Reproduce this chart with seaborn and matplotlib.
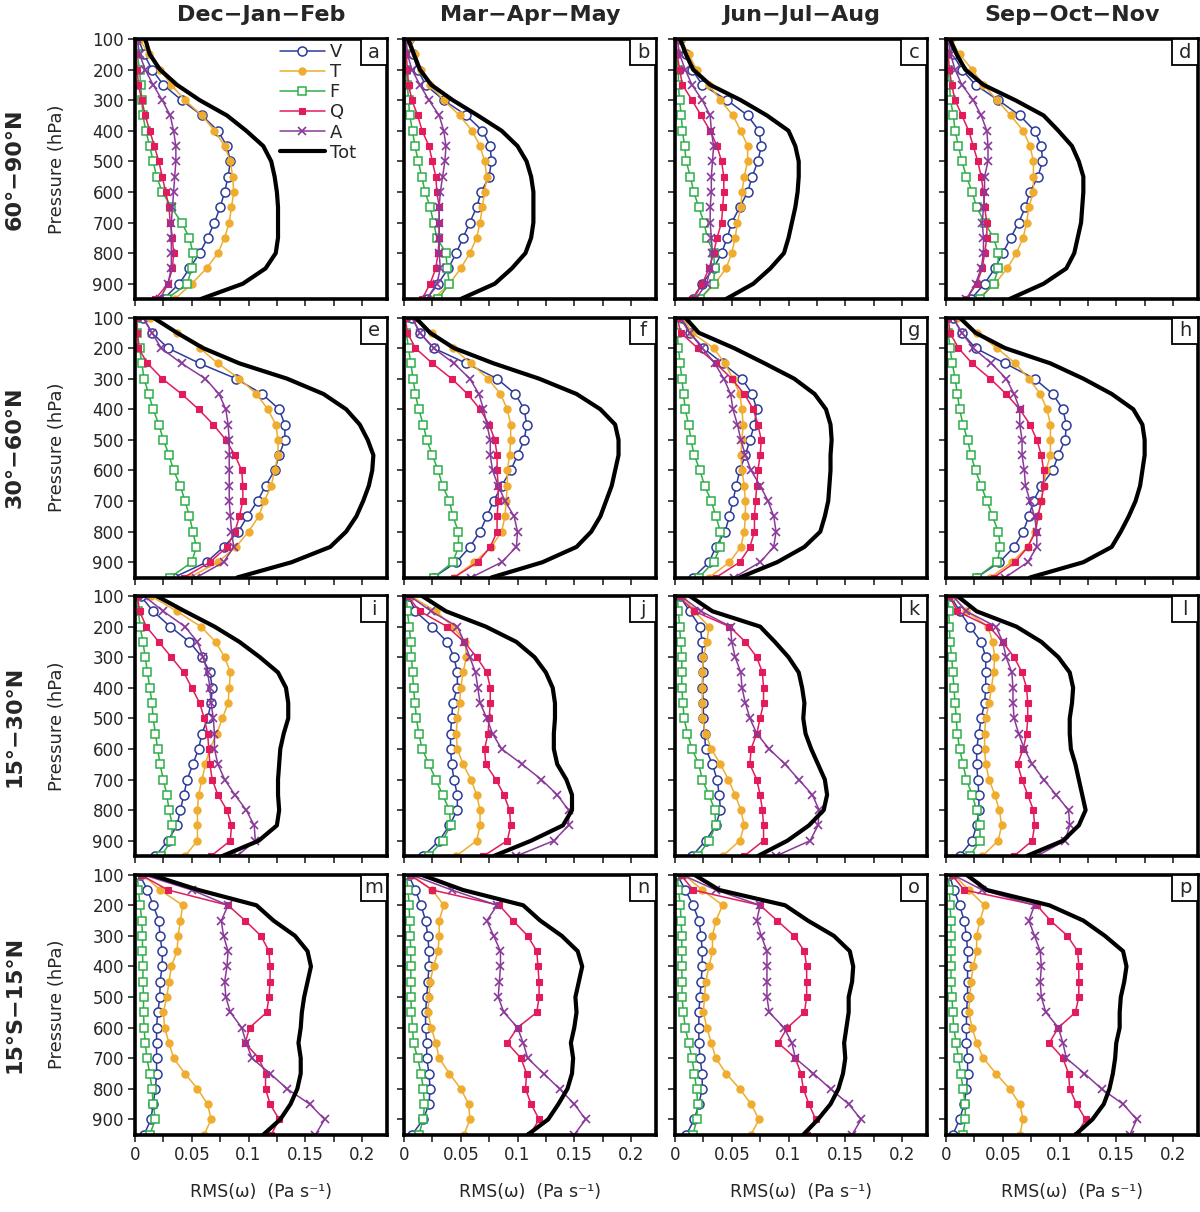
import matplotlib
matplotlib.use('Agg')
import matplotlib.pyplot as plt
import matplotlib.patches as mpatches
import pandas as pd
import seaborn as sns

# pressure levels (hPa), shared by every profile
levels = list(range(100, 951, 50))

# ---- 60-90N ----
v_a = [0.003, 0.008, 0.015, 0.025, 0.041, 0.059, 0.073, 0.081, 0.084, 0.082, 0.079, 0.075, 0.070, 0.064, 0.057, 0.048, 0.039, 0.025]
t_a = [0.004, 0.012, 0.022, 0.032, 0.044, 0.059, 0.070, 0.079, 0.084, 0.086, 0.087, 0.085, 0.083, 0.079, 0.073, 0.063, 0.050, 0.035]
f_a = [0.001, 0.002, 0.004, 0.005, 0.006, 0.007, 0.0095, 0.013, 0.016, 0.019, 0.024, 0.032, 0.041, 0.048, 0.051, 0.050, 0.046, 0.028]
q_a = [0.001, 0.001, 0.002, 0.003, 0.006, 0.009, 0.013, 0.017, 0.021, 0.024, 0.027, 0.030, 0.031, 0.033, 0.034, 0.033, 0.029, 0.018]
a_a = [0.002, 0.004, 0.009, 0.016, 0.024, 0.031, 0.034, 0.036, 0.036, 0.035, 0.034, 0.033, 0.032, 0.032, 0.032, 0.032, 0.029, 0.022]
tot_a = [0.009, 0.013, 0.022, 0.037, 0.057, 0.081, 0.098, 0.113, 0.120, 0.123, 0.125, 0.126, 0.126, 0.126, 0.124, 0.115, 0.095, 0.058]

v_b = [0.004, 0.008, 0.012, 0.019, 0.035, 0.055, 0.069, 0.076, 0.077, 0.075, 0.068, 0.064, 0.058, 0.052, 0.046, 0.039, 0.030, 0.020]
t_b = [0.005, 0.010, 0.015, 0.023, 0.035, 0.049, 0.060, 0.067, 0.071, 0.073, 0.071, 0.069, 0.067, 0.064, 0.058, 0.050, 0.040, 0.026]
f_b = [0.001, 0.001, 0.002, 0.003, 0.004, 0.005, 0.0075, 0.0096, 0.0126, 0.0156, 0.0186, 0.023, 0.026, 0.029, 0.037, 0.038, 0.040, 0.030]
q_b = [0.001, 0.002, 0.003, 0.004, 0.007, 0.012, 0.016, 0.022, 0.025, 0.028, 0.029, 0.031, 0.031, 0.031, 0.030, 0.028, 0.023, 0.016]
a_b = [0.002, 0.003, 0.007, 0.014, 0.022, 0.031, 0.035, 0.037, 0.036, 0.034, 0.032, 0.031, 0.031, 0.031, 0.031, 0.032, 0.029, 0.020]
tot_b = [0.0036, 0.0087, 0.014, 0.024, 0.043, 0.065, 0.086, 0.100, 0.108, 0.112, 0.114, 0.114, 0.114, 0.112, 0.107, 0.095, 0.080, 0.050]

v_c = [0.004, 0.010, 0.015, 0.024, 0.046, 0.064, 0.074, 0.076, 0.073, 0.068, 0.064, 0.057, 0.050, 0.046, 0.041, 0.034, 0.024, 0.016]
t_c = [0.005, 0.012, 0.019, 0.030, 0.040, 0.051, 0.058, 0.064, 0.064, 0.061, 0.059, 0.058, 0.055, 0.053, 0.050, 0.045, 0.035, 0.022]
f_c = [0.001, 0.001, 0.003, 0.003, 0.004, 0.0055, 0.0066, 0.0084, 0.0099, 0.0135, 0.0165, 0.021, 0.0255, 0.0285, 0.034, 0.035, 0.034, 0.022]
q_c = [0.001, 0.002, 0.004, 0.0066, 0.015, 0.023, 0.031, 0.037, 0.041, 0.043, 0.043, 0.042, 0.041, 0.037, 0.034, 0.030, 0.024, 0.015]
a_c = [0.002, 0.004, 0.009, 0.015, 0.024, 0.031, 0.032, 0.034, 0.033, 0.032, 0.032, 0.031, 0.031, 0.032, 0.033, 0.031, 0.028, 0.018]
tot_c = [0.0045, 0.0096, 0.016, 0.031, 0.058, 0.081, 0.100, 0.106, 0.109, 0.109, 0.108, 0.106, 0.103, 0.100, 0.096, 0.084, 0.069, 0.045]

v_d = [0.003, 0.006, 0.014, 0.026, 0.046, 0.065, 0.078, 0.084, 0.085, 0.081, 0.074, 0.070, 0.064, 0.057, 0.050, 0.043, 0.034, 0.022]
t_d = [0.004, 0.012, 0.023, 0.033, 0.045, 0.057, 0.068, 0.074, 0.077, 0.077, 0.077, 0.073, 0.071, 0.068, 0.062, 0.054, 0.043, 0.028]
f_d = [0.001, 0.001, 0.002, 0.003, 0.004, 0.0065, 0.008, 0.011, 0.014, 0.018, 0.023, 0.027, 0.034, 0.042, 0.046, 0.046, 0.042, 0.030]
q_d = [0.001, 0.002, 0.003, 0.005, 0.008, 0.014, 0.020, 0.024, 0.028, 0.031, 0.033, 0.034, 0.036, 0.036, 0.034, 0.032, 0.027, 0.018]
a_d = [0.002, 0.004, 0.008, 0.014, 0.024, 0.031, 0.036, 0.037, 0.037, 0.034, 0.034, 0.033, 0.032, 0.033, 0.033, 0.031, 0.026, 0.018]
tot_d = [0.0035, 0.0094, 0.017, 0.033, 0.061, 0.086, 0.099, 0.111, 0.117, 0.121, 0.121, 0.120, 0.119, 0.116, 0.113, 0.106, 0.086, 0.056]

# ---- 30-60N ----
v_e = [0.007, 0.015, 0.029, 0.057, 0.089, 0.112, 0.127, 0.132, 0.132, 0.127, 0.123, 0.115, 0.108, 0.099, 0.091, 0.078, 0.063, 0.034]
t_e = [0.013, 0.037, 0.057, 0.073, 0.092, 0.107, 0.117, 0.124, 0.126, 0.126, 0.123, 0.120, 0.114, 0.109, 0.100, 0.089, 0.073, 0.048]
f_e = [0.002, 0.002, 0.004, 0.006, 0.008, 0.012, 0.016, 0.021, 0.025, 0.030, 0.034, 0.040, 0.044, 0.048, 0.051, 0.054, 0.050, 0.031]
q_e = [0.001, 0.002, 0.003, 0.011, 0.024, 0.041, 0.056, 0.069, 0.080, 0.088, 0.094, 0.095, 0.095, 0.092, 0.088, 0.081, 0.066, 0.043]
a_e = [0.007, 0.015, 0.023, 0.041, 0.062, 0.074, 0.080, 0.082, 0.083, 0.083, 0.083, 0.083, 0.083, 0.084, 0.085, 0.087, 0.078, 0.054]
tot_e = [0.016, 0.037, 0.060, 0.092, 0.134, 0.166, 0.186, 0.198, 0.205, 0.210, 0.209, 0.206, 0.201, 0.195, 0.186, 0.172, 0.138, 0.090]

v_f = [0.007, 0.014, 0.026, 0.055, 0.082, 0.098, 0.106, 0.108, 0.106, 0.100, 0.094, 0.086, 0.079, 0.073, 0.067, 0.058, 0.046, 0.026]
t_f = [0.010, 0.025, 0.043, 0.059, 0.074, 0.085, 0.091, 0.094, 0.094, 0.093, 0.091, 0.091, 0.090, 0.089, 0.086, 0.077, 0.062, 0.044]
f_f = [0.001, 0.002, 0.004, 0.006, 0.008, 0.010, 0.013, 0.017, 0.020, 0.025, 0.030, 0.034, 0.040, 0.043, 0.048, 0.048, 0.043, 0.026]
q_f = [0.001, 0.003, 0.010, 0.025, 0.042, 0.056, 0.067, 0.075, 0.080, 0.082, 0.082, 0.083, 0.083, 0.082, 0.082, 0.076, 0.065, 0.044]
a_f = [0.007, 0.014, 0.026, 0.044, 0.058, 0.066, 0.070, 0.073, 0.076, 0.076, 0.078, 0.083, 0.089, 0.097, 0.100, 0.099, 0.086, 0.059]
tot_f = [0.010, 0.023, 0.044, 0.079, 0.119, 0.152, 0.173, 0.186, 0.189, 0.189, 0.186, 0.183, 0.178, 0.173, 0.165, 0.152, 0.122, 0.077]

v_g = [0.006, 0.013, 0.025, 0.042, 0.059, 0.068, 0.072, 0.070, 0.066, 0.062, 0.057, 0.054, 0.051, 0.048, 0.044, 0.036, 0.030, 0.016]
t_g = [0.007, 0.015, 0.034, 0.044, 0.051, 0.057, 0.059, 0.060, 0.059, 0.058, 0.059, 0.061, 0.062, 0.062, 0.061, 0.058, 0.048, 0.030]
f_g = [0.001, 0.002, 0.003, 0.0045, 0.006, 0.0075, 0.009, 0.012, 0.014, 0.017, 0.022, 0.026, 0.032, 0.036, 0.040, 0.040, 0.034, 0.021]
q_g = [0.002, 0.005, 0.020, 0.036, 0.050, 0.061, 0.069, 0.073, 0.076, 0.075, 0.073, 0.072, 0.071, 0.070, 0.070, 0.066, 0.057, 0.036]
a_g = [0.004, 0.013, 0.024, 0.035, 0.043, 0.049, 0.051, 0.055, 0.058, 0.062, 0.067, 0.075, 0.082, 0.087, 0.089, 0.087, 0.075, 0.052]
tot_g = [0.009, 0.021, 0.052, 0.079, 0.105, 0.123, 0.133, 0.137, 0.138, 0.137, 0.137, 0.136, 0.135, 0.132, 0.128, 0.114, 0.090, 0.057]

v_h = [0.006, 0.014, 0.026, 0.052, 0.078, 0.094, 0.103, 0.106, 0.105, 0.099, 0.094, 0.084, 0.077, 0.073, 0.068, 0.060, 0.047, 0.027]
t_h = [0.010, 0.027, 0.045, 0.061, 0.073, 0.083, 0.089, 0.092, 0.092, 0.092, 0.088, 0.086, 0.084, 0.081, 0.078, 0.072, 0.058, 0.039]
f_h = [0.001, 0.002, 0.0035, 0.0056, 0.008, 0.010, 0.012, 0.015, 0.019, 0.022, 0.026, 0.031, 0.036, 0.041, 0.046, 0.048, 0.045, 0.027]
q_h = [0.002, 0.0035, 0.011, 0.023, 0.039, 0.053, 0.065, 0.074, 0.080, 0.084, 0.086, 0.086, 0.084, 0.081, 0.079, 0.072, 0.061, 0.042]
a_h = [0.006, 0.014, 0.024, 0.040, 0.053, 0.060, 0.065, 0.065, 0.067, 0.067, 0.069, 0.070, 0.074, 0.078, 0.080, 0.080, 0.072, 0.052]
tot_h = [0.012, 0.026, 0.052, 0.092, 0.121, 0.146, 0.165, 0.173, 0.175, 0.175, 0.173, 0.171, 0.167, 0.161, 0.154, 0.146, 0.121, 0.074]

# ---- 15-30N ----
v_i = [0.005, 0.016, 0.031, 0.048, 0.059, 0.066, 0.068, 0.067, 0.064, 0.059, 0.056, 0.051, 0.046, 0.043, 0.040, 0.037, 0.029, 0.018]
t_i = [0.014, 0.037, 0.058, 0.071, 0.079, 0.084, 0.083, 0.082, 0.077, 0.072, 0.066, 0.062, 0.059, 0.056, 0.055, 0.055, 0.055, 0.044]
f_i = [0.002, 0.003, 0.0045, 0.007, 0.009, 0.011, 0.013, 0.015, 0.016, 0.018, 0.020, 0.022, 0.025, 0.028, 0.030, 0.033, 0.032, 0.023]
q_i = [0.002, 0.004, 0.010, 0.021, 0.032, 0.043, 0.050, 0.057, 0.061, 0.064, 0.065, 0.066, 0.068, 0.073, 0.081, 0.085, 0.084, 0.067]
a_i = [0.008, 0.025, 0.044, 0.055, 0.060, 0.064, 0.066, 0.067, 0.069, 0.070, 0.070, 0.073, 0.079, 0.088, 0.098, 0.105, 0.106, 0.090]
tot_i = [0.019, 0.044, 0.070, 0.092, 0.110, 0.126, 0.133, 0.135, 0.135, 0.131, 0.128, 0.127, 0.126, 0.126, 0.127, 0.125, 0.109, 0.077]

v_j = [0.004, 0.010, 0.025, 0.038, 0.044, 0.047, 0.047, 0.043, 0.042, 0.041, 0.041, 0.042, 0.044, 0.047, 0.047, 0.040, 0.031, 0.017]
t_j = [0.006, 0.028, 0.043, 0.054, 0.055, 0.052, 0.050, 0.049, 0.047, 0.046, 0.047, 0.052, 0.059, 0.064, 0.067, 0.067, 0.064, 0.046]
f_j = [0.002, 0.003, 0.0045, 0.006, 0.0066, 0.0075, 0.0084, 0.0096, 0.011, 0.013, 0.016, 0.022, 0.028, 0.034, 0.040, 0.041, 0.034, 0.022]
q_j = [0.003, 0.014, 0.038, 0.053, 0.064, 0.073, 0.076, 0.076, 0.075, 0.074, 0.071, 0.072, 0.081, 0.088, 0.093, 0.094, 0.091, 0.070]
a_j = [0.005, 0.024, 0.047, 0.053, 0.058, 0.063, 0.065, 0.067, 0.073, 0.078, 0.086, 0.104, 0.121, 0.135, 0.145, 0.145, 0.132, 0.099]
tot_j = [0.016, 0.037, 0.072, 0.099, 0.115, 0.125, 0.131, 0.133, 0.133, 0.132, 0.132, 0.135, 0.143, 0.148, 0.148, 0.140, 0.112, 0.079]

v_k = [0.004, 0.013, 0.022, 0.024, 0.024, 0.025, 0.024, 0.025, 0.025, 0.026, 0.027, 0.033, 0.037, 0.039, 0.040, 0.036, 0.027, 0.015]
t_k = [0.007, 0.017, 0.030, 0.028, 0.025, 0.024, 0.024, 0.024, 0.024, 0.027, 0.032, 0.040, 0.047, 0.053, 0.058, 0.061, 0.057, 0.042]
f_k = [0.002, 0.003, 0.004, 0.005, 0.006, 0.006, 0.006, 0.007, 0.008, 0.011, 0.015, 0.021, 0.024, 0.030, 0.035, 0.036, 0.030, 0.020]
q_k = [0.003, 0.017, 0.048, 0.062, 0.072, 0.077, 0.078, 0.078, 0.075, 0.072, 0.067, 0.066, 0.072, 0.075, 0.077, 0.078, 0.078, 0.061]
a_k = [0.005, 0.023, 0.049, 0.050, 0.053, 0.058, 0.059, 0.062, 0.066, 0.072, 0.083, 0.097, 0.109, 0.121, 0.127, 0.126, 0.119, 0.089]
tot_k = [0.013, 0.033, 0.075, 0.088, 0.100, 0.109, 0.112, 0.114, 0.113, 0.115, 0.120, 0.126, 0.132, 0.134, 0.131, 0.118, 0.099, 0.073]

v_l = [0.004, 0.012, 0.021, 0.031, 0.035, 0.035, 0.035, 0.034, 0.031, 0.029, 0.027, 0.027, 0.028, 0.029, 0.029, 0.027, 0.023, 0.012]
t_l = [0.006, 0.018, 0.037, 0.041, 0.043, 0.042, 0.040, 0.038, 0.035, 0.034, 0.034, 0.035, 0.038, 0.043, 0.047, 0.049, 0.046, 0.032]
f_l = [0.002, 0.0024, 0.003, 0.0035, 0.005, 0.006, 0.007, 0.008, 0.009, 0.010, 0.012, 0.015, 0.018, 0.023, 0.027, 0.030, 0.030, 0.021]
q_l = [0.003, 0.010, 0.038, 0.050, 0.060, 0.067, 0.071, 0.072, 0.072, 0.071, 0.068, 0.063, 0.067, 0.072, 0.077, 0.078, 0.076, 0.060]
a_l = [0.006, 0.018, 0.044, 0.050, 0.053, 0.058, 0.059, 0.059, 0.060, 0.064, 0.069, 0.076, 0.086, 0.097, 0.108, 0.109, 0.105, 0.080]
tot_l = [0.010, 0.027, 0.062, 0.084, 0.099, 0.109, 0.112, 0.111, 0.109, 0.109, 0.110, 0.114, 0.117, 0.120, 0.123, 0.117, 0.103, 0.071]

# ---- 15S-15N ----
v_m = [0.004, 0.011, 0.016, 0.021, 0.022, 0.024, 0.024, 0.022, 0.022, 0.020, 0.019, 0.019, 0.019, 0.019, 0.018, 0.016, 0.014, 0.008]
t_m = [0.007, 0.022, 0.042, 0.040, 0.038, 0.037, 0.032, 0.030, 0.028, 0.025, 0.026, 0.030, 0.034, 0.044, 0.055, 0.064, 0.067, 0.061]
f_m = [0.002, 0.003, 0.0045, 0.006, 0.0066, 0.0066, 0.007, 0.007, 0.0075, 0.0075, 0.008, 0.009, 0.0105, 0.013, 0.015, 0.016, 0.018, 0.013]
q_m = [0.005, 0.029, 0.082, 0.097, 0.111, 0.118, 0.119, 0.119, 0.118, 0.116, 0.101, 0.097, 0.109, 0.115, 0.115, 0.119, 0.127, 0.120]
a_m = [0.007, 0.050, 0.082, 0.076, 0.078, 0.082, 0.081, 0.079, 0.080, 0.084, 0.094, 0.098, 0.103, 0.119, 0.134, 0.154, 0.167, 0.159]
tot_m = [0.014, 0.056, 0.107, 0.122, 0.141, 0.152, 0.155, 0.152, 0.149, 0.147, 0.146, 0.144, 0.146, 0.146, 0.143, 0.137, 0.128, 0.113]

v_n = [0.004, 0.010, 0.015, 0.019, 0.021, 0.022, 0.022, 0.021, 0.020, 0.019, 0.019, 0.020, 0.020, 0.022, 0.023, 0.022, 0.017, 0.007]
t_n = [0.006, 0.025, 0.035, 0.031, 0.031, 0.030, 0.026, 0.023, 0.022, 0.021, 0.024, 0.028, 0.031, 0.040, 0.050, 0.057, 0.058, 0.053]
f_n = [0.002, 0.0036, 0.0045, 0.005, 0.0054, 0.006, 0.006, 0.006, 0.006, 0.0066, 0.0075, 0.0084, 0.012, 0.015, 0.017, 0.018, 0.017, 0.013]
q_n = [0.005, 0.025, 0.084, 0.096, 0.109, 0.117, 0.118, 0.119, 0.119, 0.117, 0.100, 0.091, 0.103, 0.108, 0.107, 0.112, 0.119, 0.111]
a_n = [0.006, 0.042, 0.082, 0.073, 0.079, 0.085, 0.085, 0.084, 0.083, 0.088, 0.100, 0.105, 0.109, 0.123, 0.137, 0.150, 0.160, 0.150]
tot_n = [0.015, 0.052, 0.105, 0.120, 0.139, 0.153, 0.157, 0.154, 0.151, 0.152, 0.150, 0.147, 0.149, 0.148, 0.144, 0.136, 0.127, 0.109]

v_o = [0.002, 0.009, 0.016, 0.021, 0.023, 0.024, 0.024, 0.023, 0.022, 0.021, 0.021, 0.021, 0.022, 0.024, 0.024, 0.021, 0.017, 0.010]
t_o = [0.008, 0.024, 0.042, 0.036, 0.033, 0.033, 0.030, 0.027, 0.026, 0.025, 0.028, 0.032, 0.036, 0.045, 0.057, 0.067, 0.074, 0.067]
f_o = [0.002, 0.003, 0.0047, 0.0053, 0.006, 0.006, 0.006, 0.0062, 0.0062, 0.0074, 0.009, 0.012, 0.015, 0.017, 0.019, 0.020, 0.019, 0.016]
q_o = [0.005, 0.016, 0.075, 0.090, 0.105, 0.114, 0.116, 0.116, 0.116, 0.114, 0.099, 0.091, 0.106, 0.111, 0.113, 0.118, 0.124, 0.116]
a_o = [0.006, 0.036, 0.075, 0.072, 0.076, 0.081, 0.081, 0.081, 0.081, 0.083, 0.096, 0.103, 0.106, 0.122, 0.137, 0.153, 0.164, 0.156]
tot_o = [0.017, 0.039, 0.097, 0.117, 0.140, 0.154, 0.157, 0.156, 0.153, 0.153, 0.151, 0.149, 0.150, 0.148, 0.144, 0.137, 0.126, 0.113]

v_p = [0.003, 0.007, 0.012, 0.016, 0.018, 0.019, 0.019, 0.019, 0.019, 0.018, 0.018, 0.018, 0.019, 0.019, 0.018, 0.016, 0.012, 0.006]
t_p = [0.007, 0.020, 0.034, 0.030, 0.027, 0.027, 0.024, 0.022, 0.021, 0.020, 0.023, 0.027, 0.033, 0.044, 0.056, 0.065, 0.068, 0.065]
f_p = [0.002, 0.003, 0.0035, 0.0044, 0.0044, 0.0044, 0.0044, 0.0044, 0.0053, 0.006, 0.0068, 0.009, 0.011, 0.013, 0.015, 0.017, 0.017, 0.015]
q_p = [0.005, 0.016, 0.080, 0.092, 0.107, 0.116, 0.117, 0.117, 0.117, 0.114, 0.099, 0.091, 0.103, 0.108, 0.109, 0.115, 0.123, 0.115]
a_p = [0.006, 0.032, 0.078, 0.073, 0.078, 0.083, 0.084, 0.083, 0.084, 0.088, 0.099, 0.103, 0.106, 0.122, 0.137, 0.156, 0.168, 0.162]
tot_p = [0.018, 0.036, 0.091, 0.121, 0.140, 0.156, 0.159, 0.157, 0.154, 0.153, 0.153, 0.150, 0.149, 0.147, 0.144, 0.139, 0.129, 0.114]

seasons = ['Dec\u2212Jan\u2212Feb', 'Mar\u2212Apr\u2212May', 'Jun\u2212Jul\u2212Aug', 'Sep\u2212Oct\u2212Nov']
bands = ['60\u00b0\u221290\u00b0N', '30\u00b0\u221260\u00b0N', '15\u00b0\u221230\u00b0N', '15\u00b0S\u221215\u00b0N']
letters = list('abcdefghijklmnop')
names = ['V', 'T', 'F', 'Q', 'A', 'Tot']

g = globals()
rows = []
for let in letters:
    for nm in names:
        vals = g[f'{nm.lower()}_{let}']
        for p, x in zip(levels, vals):
            rows.append({'panel': let, 'series': nm, 'p': p, 'rms': x})
df = pd.DataFrame(rows)

styles = {
    'V': dict(color='#2c3b98', marker='o', markersize=6.5, markerfacecolor='white', markeredgewidth=1.1, linewidth=1.1),
    'T': dict(color='#efac2f', marker='o', markersize=5.2, markerfacecolor='#efac2f', markeredgewidth=0.8, linewidth=1.1),
    'F': dict(color='#2eae48', marker='s', markersize=6.0, markerfacecolor='white', markeredgewidth=1.1, linewidth=1.1),
    'Q': dict(color='#e21c5b', marker='s', markersize=5.0, markerfacecolor='#e21c5b', markeredgewidth=0.8, linewidth=1.1),
    'A': dict(color='#8a3899', marker='x', markersize=6.0, markerfacecolor='#8a3899', markeredgewidth=1.2, linewidth=1.1),
    'Tot': dict(color='black', marker=None, linewidth=3.0),
}

sns.set_style('white')
plt.rcParams['font.family'] = ['DejaVu Sans']

W, H = 1200, 1212
fig = plt.figure(figsize=(W / 100, H / 100), dpi=100)

col_left = [135, 404, 675, 946]
row_top = [39, 317.5, 596, 874.7]
pw, ph = 252, 260

for r in range(4):
    for c in range(4):
        let = letters[r * 4 + c]
        ax = fig.add_axes([col_left[c] / W, 1 - (row_top[r] + ph) / H, pw / W, ph / H])
        for nm in names:
            sub = df[(df['panel'] == let) & (df['series'] == nm)]
            st = dict(styles[nm])
            col = st.pop('color')
            if st.get('marker'):
                st['markeredgecolor'] = col
            else:
                st.pop('marker')
            lab = nm if let == 'a' else None
            sns.lineplot(data=sub, x='rms', y='p', ax=ax, sort=False, estimator=None,
                         color=col, label=lab, **st)
        ax.set_xlim(0, 0.222)
        ax.set_ylim(950, 100)
        ax.set_xlabel('')
        ax.set_ylabel('')
        ax.set_xticks([0, 0.05, 0.1, 0.15, 0.2])
        ax.set_xticks([0.025, 0.075, 0.125, 0.175], minor=True)
        ax.set_yticks(range(100, 901, 100))
        ax.tick_params(axis='both', which='both', direction='out', length=5, width=1.2,
                       labelsize=12, bottom=True, left=True, top=False, right=False, pad=3)
        if r == 3:
            ax.set_xticklabels(['0', '0.05', '0.1', '0.15', '0.2'])
        else:
            ax.set_xticklabels([])
        if c != 0:
            ax.set_yticklabels([])
        for s in ax.spines.values():
            s.set_linewidth(2.6)
            s.set_color('black')
        # panel letter box in the top right corner
        bw, bh = 26 / pw, 26 / ph
        ax.add_patch(mpatches.Rectangle((1 - bw, 1 - bh), bw, bh, transform=ax.transAxes,
                                        facecolor='white', edgecolor='black', lw=1.3, zorder=6))
        ax.text(1 - bw / 2, 1 - bh / 2, let, transform=ax.transAxes, ha='center', va='center',
                fontsize=14, zorder=7)
        if let == 'a':
            ax.legend(loc='upper left', bbox_to_anchor=(0.575, 0.985), frameon=False,
                      fontsize=13, handlelength=2.5, handletextpad=0.25, labelspacing=0.12,
                      borderpad=0, borderaxespad=0)
        else:
            leg = ax.get_legend()
            if leg is not None:
                leg.remove()

for c in range(4):
    fig.text((col_left[c] + pw / 2) / W, 1 - 15 / H, seasons[c], ha='center', va='center',
             fontsize=16, fontweight='bold')
    fig.text((col_left[c] + pw / 2) / W, 1 - 1192 / H, 'RMS(\u03c9)  (Pa s\u207b\u00b9)',
             ha='center', va='center', fontsize=12.5)

for r in range(4):
    yc = 1 - (row_top[r] + ph / 2) / H
    fig.text(15 / W, yc, bands[r], rotation=90, ha='center', va='center',
             fontsize=16, fontweight='bold')
    fig.text(57 / W, yc, 'Pressure (hPa)', rotation=90, ha='center', va='center', fontsize=13)

fig.savefig('out.png', dpi=100)
